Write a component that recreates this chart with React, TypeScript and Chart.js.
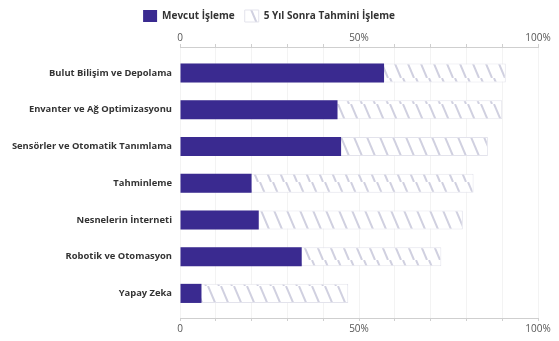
import React, { useEffect, useRef } from "react";
import { Chart, registerables } from "chart.js";

Chart.register(...registerables);

const categories = [
  "Bulut Bilişim ve Depolama",
  "Envanter ve Ağ Optimizasyonu",
  "Sensörler ve Otomatik Tanımlama",
  "Tahminleme",
  "Nesnelerin İnterneti",
  "Robotik ve Otomasyon",
  "Yapay Zeka",
];
const currentValues = [57, 44, 45, 20, 22, 34, 6];
const futureValues = [91, 90, 86, 82, 79, 73, 47];
const seriesNames = ["Mevcut İşleme", "5 Yıl Sonra Tahmini İşleme"];
const tickLabels: Record<number, string> = { 0: "0", 50: "50%", 100: "100%" };

function makeHatch(): CanvasPattern | string {
  const c = document.createElement("canvas");
  const w = 13;
  const h = 26;
  c.width = w;
  c.height = h;
  const ctx = c.getContext("2d");
  if (!ctx) return "#eee";
  ctx.fillStyle = "#ffffff";
  ctx.fillRect(0, 0, w, h);
  ctx.strokeStyle = "#d0d0e0";
  ctx.lineWidth = 2;
  const dx = 11;
  for (const off of [-w, 0, w]) {
    ctx.beginPath();
    ctx.moveTo(off, 0);
    ctx.lineTo(off + dx, h);
    ctx.stroke();
  }
  return ctx.createPattern(c, "repeat") || "#eee";
}

export default function App() {
  const ref = useRef<HTMLCanvasElement | null>(null);
  useEffect(() => {
    if (!ref.current) return;
    const hatch = makeHatch();
    const font = "'Open Sans', 'DejaVu Sans', sans-serif";
    const xTick = {
      autoSkip: false,
      stepSize: 10,
      color: "#555",
      font: { family: font, size: 10 },
      padding: 2,
      maxRotation: 0,
      callback: (v: any) => (tickLabels[v] !== undefined ? tickLabels[v] : ""),
    };
    const xGrid = {
      color: "#f3f3f3",
      tickColor: "#cfcfcf",
      tickLength: 3,
    };
    const chart = new Chart(ref.current, {
      type: "bar",
      data: {
        datasets: [
          {
            label: seriesNames[0],
            data: currentValues.map((v, i) => ({ x: v, y: i })),
            backgroundColor: "#3a2a90",
            borderColor: "#3a2a90",
            borderWidth: 0,
            xAxisID: "x",
            yAxisID: "y",
          },
          {
            label: seriesNames[1],
            data: futureValues.map((v, i) => ({ x: v, y: i })),
            backgroundColor: hatch as any,
            borderColor: "#e3e3ec",
            borderWidth: 1,
            xAxisID: "x",
            yAxisID: "y",
          },
        ],
      },
      options: {
        indexAxis: "y",
        animation: false,
        responsive: true,
        maintainAspectRatio: false,
        layout: { padding: { left: 0, right: 21, top: 0, bottom: 4 } },
        datasets: {
          bar: { grouped: false, categoryPercentage: 1, barPercentage: 0.52 },
        } as any,
        plugins: {
          tooltip: { enabled: false },
          legend: {
            position: "top",
            labels: {
              boxWidth: 14,
              boxHeight: 12,
              padding: 10,
              color: "#333",
              font: { family: font, size: 10, weight: "bold" },
            },
          },
        },
        scales: {
          x: {
            type: "linear",
            position: "bottom",
            min: 0,
            max: 100,
            ticks: xTick as any,
            grid: xGrid as any,
            border: { color: "#cfcfcf" },
          },
          x2: {
            type: "linear",
            position: "top",
            min: 0,
            max: 100,
            ticks: { ...xTick, padding: 0 } as any,
            grid: { ...xGrid, drawOnChartArea: false } as any,
            border: { color: "#cfcfcf" },
          },
          y: {
            type: "linear",
            reverse: true,
            offset: false,
            min: -0.71,
            max: 6.67,
            grid: { display: false, drawTicks: false, tickLength: 0, offset: false },
            border: { display: false },
            afterFit: (s: any) => {
              s.width = 180;
            },
            ticks: {
              stepSize: 1,
              includeBounds: false,
              autoSkip: false,
              padding: 8,
              color: "#333",
              font: { family: font, size: 9.4, weight: "bold" },
              callback: (v: any) =>
                Number.isInteger(v) && categories[v] !== undefined ? categories[v] : "",
            },
          },
        },
      } as any,
    });
    return () => chart.destroy();
  }, []);
  return (
    <div style={{ position: "fixed", left: 0, top: 0, width: 559, height: 341, background: "#fff" }}>
      <canvas ref={ref} />
    </div>
  );
}
